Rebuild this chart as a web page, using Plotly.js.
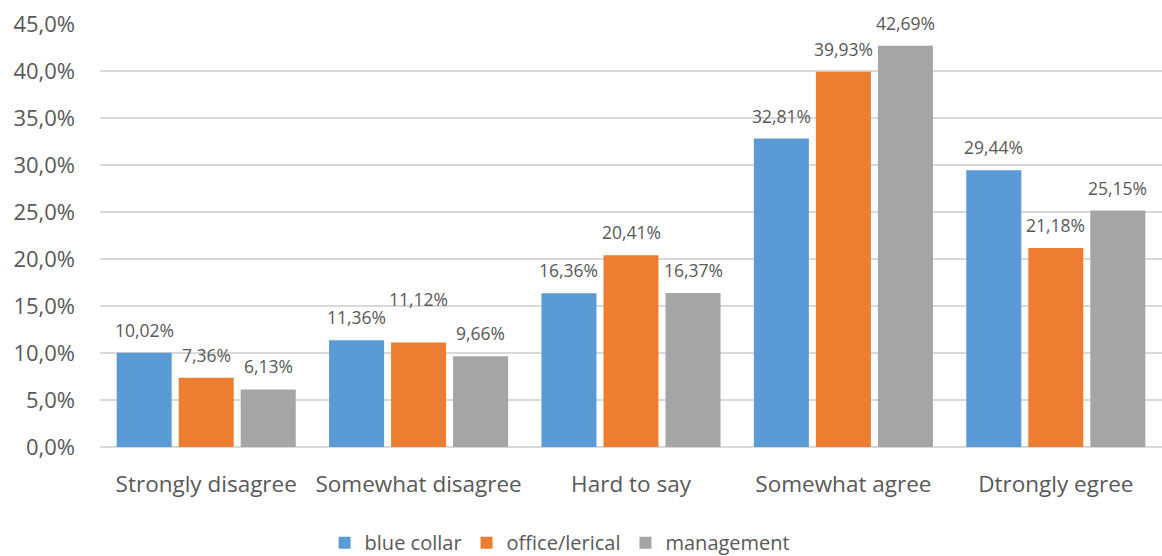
<!DOCTYPE html>
<html><head><meta charset="utf-8">
<script src="https://cdn.plot.ly/plotly-3.0.1.min.js"></script>
<style>html,body{margin:0;padding:0;background:#fff}#chart{width:1162px;height:556px}</style>
</head><body><div id="chart"></div>
<script>
const categories = ["Strongly disagree", "Somewhat disagree", "Hard to say", "Somewhat agree", "Dtrongly egree"];
const seriesNames = ["blue collar", "office/lerical", "management"];
const blueCollar = [10.02, 11.36, 16.36, 32.81, 29.44];
const officeClerical = [7.36, 11.12, 20.41, 39.93, 21.18];
const management = [6.13, 9.66, 16.37, 42.69, 25.15];
const yTicks = [0, 5, 10, 15, 20, 25, 30, 35, 40, 45];

const seriesValues = [blueCollar, officeClerical, management];
const colors = ["#5B9BD5", "#ED7D31", "#A5A5A5"];
const font = "'Open Sans', 'Noto Sans', sans-serif";
const textColor = "#595959";
const bargap = 0.124;

const traces = seriesValues.map((vals, k) => ({
  type: "bar", name: seriesNames[k], x: categories, y: vals,
  marker: {color: colors[k]}, hoverinfo: "skip"
}));

function fmt(v, d){ return v.toFixed(d).replace(".", ",") + "%"; }

// extra lift for a label Excel moved to avoid overlap (series index, category index)
const extraLift = {"1-1": 20};
const slot = (1 - bargap) / 3;
const annotations = [];
seriesValues.forEach((vals, k) => {
  vals.forEach((v, i) => {
    annotations.push({
      x: i + (k - 1) * slot, y: v, xref: "x", yref: "y",
      text: fmt(v, 2), showarrow: false, yanchor: "middle",
      yshift: 23 + (extraLift[k + "-" + i] || 0),
      font: {family: font, size: 17.5, color: textColor}
    });
  });
});

const layout = {
  width: 1162, height: 556,
  margin: {l: 100, r: 0, t: 24, b: 109},
  paper_bgcolor: "#fff", plot_bgcolor: "#fff",
  barmode: "group", bargap: bargap, bargroupgap: 0.113,
  font: {family: font, color: textColor},
  xaxis: {type: "category", showgrid: false, ticks: "", showline: false, automargin: false,
    tickfont: {family: font, size: 22.5, color: textColor}, ticklabelstandoff: 21},
  yaxis: {range: [0, 45], tickvals: yTicks, ticktext: yTicks.map(v => fmt(v, 1)),
    automargin: false,
    showgrid: true, gridcolor: "#d9d9d9", gridwidth: 1.5,
    zeroline: true, zerolinecolor: "#d9d9d9", zerolinewidth: 1.5,
    showline: false, ticks: "", ticklabelstandoff: 24,
    tickfont: {family: font, size: 22, color: textColor}},
  legend: {orientation: "h", x: 0.482, xanchor: "center", xref: "container",
    y: 0.024, yanchor: "middle", yref: "container",
    font: {family: font, size: 20, color: textColor}, itemwidth: 30},
  annotations: annotations,
  showlegend: true
};

Plotly.newPlot("chart", traces, layout, {displayModeBar: false, staticPlot: true});
</script></body></html>
